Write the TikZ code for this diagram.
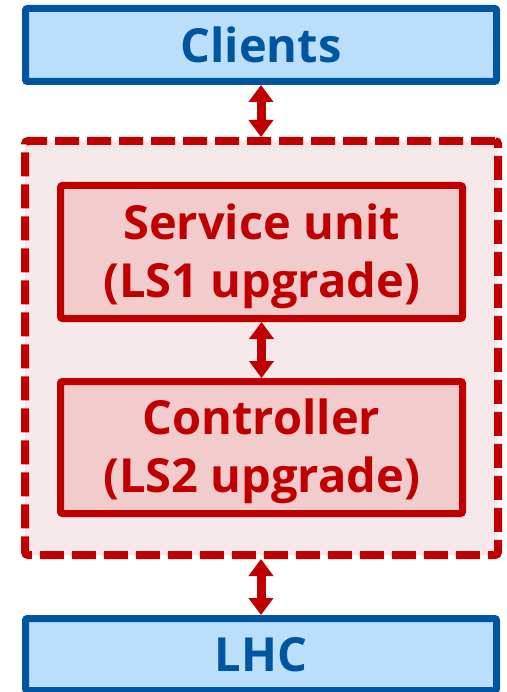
\documentclass[tikz,border=0pt]{standalone}
\usepackage{fontspec}
\setmainfont{Open Sans}
\usetikzlibrary{arrows.meta}
\definecolor{bblue}{HTML}{0055A0}
\definecolor{fblue}{HTML}{BBDEFB}
\definecolor{bred}{HTML}{C00000}
\definecolor{fred}{HTML}{F2CCCC}
\definecolor{cred}{HTML}{F5E8E8}
\newcommand{\topstrut}{\rule{0pt}{44pt}}
\tikzset{
  x=1pt, y=1pt,
  txt/.style={font=\bfseries\fontsize{47}{58}\selectfont, align=center, inner sep=0pt},
  bluebox/.style={txt, draw=bblue, fill=fblue, text=bblue, line width=7pt, rounded corners=2pt, minimum width=471pt},
  redbox/.style={txt, draw=bred, fill=fred, text=bred, line width=7pt, rounded corners=2pt, minimum width=402pt},
  groupbox/.style={draw=bred, fill=cred, line width=8pt, dash pattern=on 24pt off 8pt, rounded corners=3pt, minimum width=473pt, minimum height=414pt, inner sep=0pt},
  biarrow/.style={draw=bred, line width=9pt, {Triangle[width=24pt,length=17pt]}-{Triangle[width=24pt,length=17pt]}}
}
\begin{document}
\begin{tikzpicture}
\useasboundingbox (0,0) rectangle (506,-692);
\node[groupbox] (group) at (261.5,-348) {};
\node[bluebox, minimum height=73pt] (clients) at (261,-45) {Clients};
\node[redbox, minimum height=133pt] (service) at (261.5,-252) {\topstrut Service unit\\(LS1 upgrade)};
\node[redbox, minimum height=132pt] (controller) at (261.5,-447.5) {\topstrut Controller\\(LS2 upgrade)};
\node[bluebox, minimum height=72pt] (lhc) at (261,-654.5) {LHC};
\draw[biarrow] (clients.south) -- (clients.south |- group.north);
\draw[biarrow] (service.south) -- (controller.north);
\draw[biarrow] (lhc.north |- group.south) -- (lhc.north);
\end{tikzpicture}
\end{document}
